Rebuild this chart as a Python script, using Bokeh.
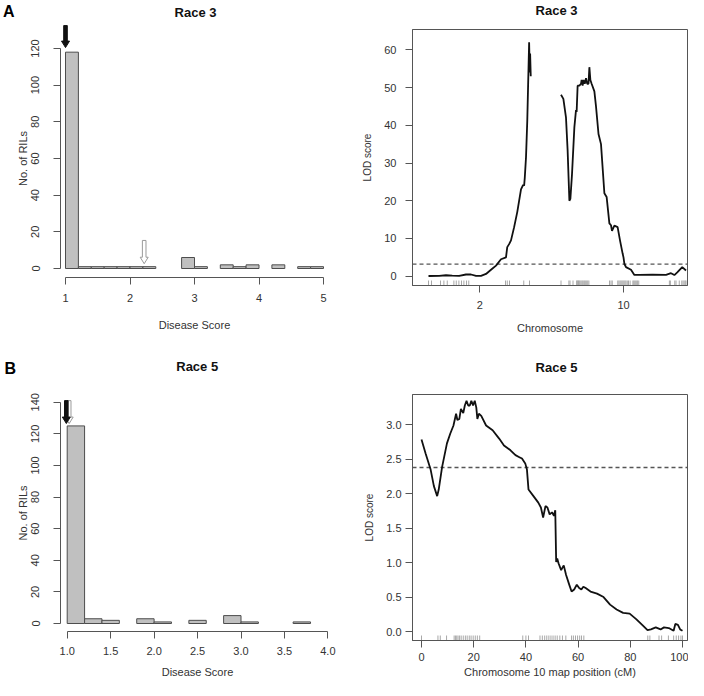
from bokeh.plotting import figure
from bokeh.models import Range1d, FixedTicker, Label, NumeralTickFormatter
from bokeh.layouts import column, row
from bokeh.embed import file_html
from bokeh.resources import INLINE

# ---------------- data ----------------
# Histograms (bin width 0.2)
r3_bin_start = 1.0
r3_bin_width = 0.2
r3_counts = [118, 1, 1, 1, 1, 1, 1, 0, 0, 6, 1, 0, 2, 1, 2, 0, 2, 0, 1, 1]
r3_hist_xticks = [1, 2, 3, 4, 5]
r3_hist_yticks = [0, 20, 40, 60, 80, 100, 120]

r5_bin_start = 1.0
r5_bin_width = 0.2
r5_counts = [125, 3, 2, 0, 3, 1, 0, 2, 0, 5, 1, 0, 0, 1]
r5_hist_xticks = [1.0, 1.5, 2.0, 2.5, 3.0, 3.5, 4.0]
r5_hist_yticks = [0, 20, 40, 60, 80, 100, 120, 140]

# Arrows on histograms
r3_arrow_x = [1.0, 2.22]
r3_arrow_top = [132.5, 15.3]
r3_arrow_tip = [120.5, 2.6]
r3_arrow_kind = ["black", "white"]

r5_arrow_x = [1.023, 0.99]
r5_arrow_top = [141.0, 141.0]
r5_arrow_tip = [126.5, 126.5]
r5_arrow_kind = ["white", "black"]

# Genome scan, race 3 (chromosomes 2 and 10)
chr_names = ["2", "10"]
chr_lengths = [82.0, 100.0]
chr_gap = 24.0

r3_chr2_pos = [0, 8.5, 14, 19, 24.5, 30, 34, 38, 42, 46, 50, 54, 58, 62, 63, 64.5, 66,
               68.5, 71, 74, 75.7, 76.5, 77, 78, 79, 80, 80.5, 81, 81.3, 81.8]
r3_chr2_lod = [0.05, 0.1, 0.25, 0.15, 0.1, 0.45, 0.45, 0.1, 0.1, 0.6, 1.7, 2.8, 4.5, 5.0, 7.7, 8.5, 9.5,
               13, 17, 23, 24.2, 24.0, 26, 31.5, 41, 55, 62, 54, 59, 53]
r3_chr10_pos = [0, 1.9, 4, 5.3, 6.7, 7.5, 8.8, 10.7, 12, 12.5, 13.3, 14.7, 16, 16.5, 17.3, 18, 19, 20,
                21, 22, 22.7, 23.5, 24.5, 26.7, 28, 30, 32, 34.7, 36.5, 38.7, 40, 40.8, 42.7, 45.3,
                47.2, 49.3, 50, 50.7, 52, 56, 58.7, 62.7, 73, 84, 88, 90.7, 93, 97, 100]
r3_chr10_lod = [48.1, 47, 42, 33.3, 20, 20.5, 27, 39.5, 44, 43.5, 50.5, 50.5, 51, 52, 50.5, 52, 51, 52.5,
                51, 51, 55.4, 52, 51, 49, 45, 37.7, 35, 22, 21, 14, 13.5, 12, 13.4, 13,
                9.5, 6, 5, 3.3, 2.4, 1.7, 0.35, 0.35, 0.4, 0.35, 0.8, 0.3, 1.0, 2.4, 1.5]
r3_threshold = 3.2
r3_lod_yticks = [0, 10, 20, 30, 40, 50, 60]

chr2_markers = [0, 2.4, 9.6, 12.3, 15, 20.3, 22.2, 24.3, 26.4, 28.3, 30.4, 32.2, 61.6, 63, 64.8, 76.2, 80.8]
chr10_markers = [0, 6.3, 7.2, 9.6, 12.5, 13.0, 13.5, 14.0, 14.6, 15.2, 16.0, 16.8, 17.5, 18.3, 19.0,
                 19.8, 20.6, 21.4, 22.3, 38.8, 40.0, 41.0, 45.4, 46.3, 47.2, 48.0, 48.8, 49.6, 50.4,
                 51.2, 52.0, 53.0, 54.0, 55.3, 57.5, 58.2, 59.0, 59.8, 60.6, 61.3, 62.2, 86.7, 87.5,
                 91.0, 92.0, 94.6, 96.6, 97.6, 98.5, 99.4, 100]

# Chromosome 10 scan, race 5
r5_pos = [0, 1.6, 3.5, 4.75, 6, 6.6, 7.9, 9.75, 11, 12.25, 13.25, 13.75, 14.5, 15.1, 16, 16.6, 17.25,
          17.9, 18.5, 19.1, 19.75, 20.4, 21, 21.4, 22, 22.9, 24.75, 27.25, 29.75, 31.6, 34.1, 36,
          37.5, 38.5, 39.75, 40.4, 41, 42.9, 44.75, 45.75, 46.6, 47.5, 48.25, 49.1, 50, 50.75, 51.25,
          51.6, 52, 52.5, 53.5, 54.5, 55.4, 56.6, 57.5, 58.5, 59.5, 60.4, 61.25, 62, 62.9, 64.75,
          67.25, 69.75, 72.25, 74.75, 77.25, 79.75, 82.25, 84.75, 86.6, 87.9, 89.75, 91.6, 92.9,
          94.75, 96.6, 97.25, 98.25, 99.1, 100]
r5_lod = [2.785, 2.58, 2.35, 2.11, 1.965, 2.06, 2.39, 2.73, 2.87, 2.99, 3.16, 3.07, 3.085, 3.23, 3.17,
          3.28, 3.35, 3.28, 3.28, 3.35, 3.28, 3.35, 3.25, 3.085, 3.16, 3.13, 2.99, 2.92, 2.8, 2.7,
          2.63, 2.56, 2.53, 2.51, 2.44, 2.35, 2.06, 1.965, 1.87, 1.8, 1.655, 1.82, 1.8, 1.70, 1.73,
          1.68, 1.76, 1.01, 1.06, 0.99, 0.89, 0.96, 0.82, 0.68, 0.58, 0.61, 0.68, 0.63, 0.61, 0.65,
          0.63, 0.58, 0.55, 0.5, 0.39, 0.32, 0.27, 0.26, 0.18, 0.09, 0.02, 0.03, 0.06, 0.03, 0.06,
          0.05, 0.01, 0.11, 0.095, 0.03, 0.01]
r5_threshold = 2.38
r5_lod_xticks = [0, 20, 40, 60, 80, 100]
r5_lod_yticks = [0.0, 0.5, 1.0, 1.5, 2.0, 2.5, 3.0]

# ---------------- style ----------------
FONT = "Liberation Sans"
TXT = "#333333"
AX = "#555555"
BAR_FILL = "#c0c0c0"
BAR_LINE = "#4d4d4d"
RUG = "#a8a8a8"
CURVE = "#111111"


def canvas_fig(W, H, ox, oy, xref_px, xref_val, ppx, yref_py, yref_val, ppy):
    """Figure whose frame fills the canvas; mapping defined in picture pixels."""
    def fx(px):
        return xref_val + (px - xref_px) / ppx

    def fy(py):
        return yref_val + (yref_py - py) / ppy

    p = figure(width=W, height=H, x_range=Range1d(fx(ox), fx(ox + W)),
               y_range=Range1d(fy(oy + H), fy(oy)), output_backend="svg",
               toolbar_location=None, title=None, min_border=0,
               min_border_left=0, min_border_right=0, min_border_top=0, min_border_bottom=0)
    p.grid.visible = False
    p.outline_line_color = None
    p.background_fill_color = "white"
    p.border_fill_color = "white"
    for ax in (p.xaxis[0], p.yaxis[0]):
        ax.axis_line_color = AX
        ax.major_tick_line_color = AX
        ax.minor_tick_line_color = None
        ax.major_tick_out = 7
        ax.major_tick_in = 0
        ax.major_label_text_font = FONT
        ax.major_label_text_font_size = "11px"
        ax.major_label_text_color = TXT
        ax.axis_label_text_font = FONT
        ax.axis_label_text_font_size = "11px"
        ax.axis_label_text_font_style = "normal"
        ax.axis_label_text_color = TXT
    return p, fx, fy


def add_text(p, text, x, y, size="13px", align="center", color="#111111"):
    p.add_layout(Label(x=x, y=y, text=text, text_align=align, text_baseline="middle",
                       text_font=FONT, text_font_size=size, text_font_style="bold",
                       text_color=color))


def block_arrow(x, ytop, ytip, ppx, ppy, shaft_px=3.6, head_w_px=8.0, head_len_px=6.5):
    sw = shaft_px / 2.0 / ppx
    hw = head_w_px / 2.0 / ppx
    hl = head_len_px / ppy
    yb = ytip + hl
    xs = [x - sw, x + sw, x + sw, x + hw, x, x - hw, x - sw]
    ys = [ytop, ytop, yb, yb, ytip, yb, yb]
    return xs, ys


def histogram(p, fx, fy, ppx, ppy, counts, start, width, xticks, yticks, yaxis_px, xaxis_py,
              arrows, fmt=None):
    lefts = [start + i * width for i, c in enumerate(counts) if c > 0]
    tops = [c for c in counts if c > 0]
    rights = [l + width for l in lefts]
    p.quad(left=lefts, right=rights, bottom=0, top=tops, fill_color=BAR_FILL,
           line_color=BAR_LINE, line_width=1)
    p.xaxis.fixed_location = fy(xaxis_py)
    p.yaxis.fixed_location = fx(yaxis_px)
    p.xaxis.ticker = FixedTicker(ticks=xticks)
    p.xaxis.bounds = (xticks[0], xticks[-1])
    p.yaxis.ticker = FixedTicker(ticks=yticks)
    p.yaxis.bounds = (yticks[0], yticks[-1])
    if fmt:
        p.xaxis.formatter = NumeralTickFormatter(format=fmt)
    p.yaxis.major_label_orientation = "vertical"
    p.yaxis.major_label_standoff = 14
    p.yaxis.axis_label_standoff = 0
    p.xaxis.axis_label = "Disease Score"
    p.yaxis.axis_label = "No. of RILs"
    for x, yt, ytip, k in zip(*arrows):
        xs, ys = block_arrow(x, yt, ytip, ppx, ppy)
        if k == "black":
            p.patch(xs, ys, fill_color="#111111", line_color="#111111", line_width=1)
        else:
            p.patch(xs, ys, fill_color="white", line_color="#9a9a9a", line_width=1)


# ---------------- panel A left: histogram race 3 ----------------
W1, H1 = 352, 344
PPX1, PPY1 = 64.5, 1.8333
p1, fx1, fy1 = canvas_fig(W1, H1, 0, 0, 65, 1.0, PPX1, 268, 0.0, PPY1)
histogram(p1, fx1, fy1, PPX1, PPY1, r3_counts, r3_bin_start, r3_bin_width,
          r3_hist_xticks, r3_hist_yticks, 60, 277,
          (r3_arrow_x, r3_arrow_top, r3_arrow_tip, r3_arrow_kind))
p1.xaxis.major_label_standoff = 9
p1.xaxis.axis_label_standoff = 14
add_text(p1, "Race 3", fx1(195), fy1(12))
add_text(p1, "A", fx1(2.5), fy1(11), size="16px", align="left", color="#000000")

# ---------------- panel A right: genome scan race 3 ----------------
W2, H2 = 336, 344
PPX2, PPY2 = 1.25, 3.773
p2, fx2, fy2 = canvas_fig(W2, H2, 352, 0, 428, 0.0, PPX2, 275.7, 0.0, PPY2)
bx0, bx1, by0, by1 = fx2(412), fx2(687), fy2(285), fy2(29)
p2.quad(left=[bx0], right=[bx1], bottom=[by0], top=[by1], fill_color=None,
        line_color=AX, line_width=1)
offset10 = chr_lengths[0] + chr_gap
mids = [chr_lengths[0] / 2.0, offset10 + chr_lengths[1] / 2.0]
p2.xaxis.fixed_location = by0
p2.yaxis.fixed_location = bx0
p2.xaxis.bounds = (bx0, bx1)
p2.yaxis.bounds = (by0, by1)
p2.xaxis.ticker = FixedTicker(ticks=mids)
p2.xaxis.major_label_overrides = {mids[0]: chr_names[0], mids[1]: chr_names[1]}
p2.yaxis.ticker = FixedTicker(ticks=r3_lod_yticks)
p2.xaxis.axis_label = "Chromosome"
p2.yaxis.axis_label = "LOD score"
p2.yaxis.axis_label_text_font_size = "10px"
p2.xaxis.major_label_standoff = 8
p2.xaxis.axis_label_standoff = 10
p2.yaxis.major_label_standoff = 9
p2.yaxis.axis_label_standoff = 8
rug_x2 = list(chr2_markers) + [offset10 + m for m in chr10_markers]
p2.segment(x0=rug_x2, y0=[by0] * len(rug_x2), x1=rug_x2, y1=[fy2(280)] * len(rug_x2),
           line_color=RUG, line_width=1)
p2.segment(x0=[bx0], y0=[r3_threshold], x1=[bx1], y1=[r3_threshold], line_color=AX,
           line_dash="4 3", line_width=1.3)
p2.line(r3_chr2_pos, r3_chr2_lod, line_color=CURVE, line_width=1.8)
p2.line([offset10 + x for x in r3_chr10_pos], r3_chr10_lod, line_color=CURVE, line_width=1.8)
add_text(p2, "Race 3", fx2(556), fy2(10))

# ---------------- panel B left: histogram race 5 ----------------
W3, H3 = 352, 336
PPX3, PPY3 = 86.9, 1.5807
p3, fx3, fy3 = canvas_fig(W3, H3, 0, 344, 66.7, 1.0, PPX3, 623, 0.0, PPY3)
histogram(p3, fx3, fy3, PPX3, PPY3, r5_counts, r5_bin_start, r5_bin_width,
          r5_hist_xticks, r5_hist_yticks, 60, 631,
          (r5_arrow_x, r5_arrow_top, r5_arrow_tip, r5_arrow_kind), fmt="0.0")
p3.xaxis.major_label_standoff = 8
p3.xaxis.axis_label_standoff = 8
add_text(p3, "Race 5", fx3(196.7), fy3(365.5))
add_text(p3, "B", fx3(4), fy3(367.5), size="16px", align="left", color="#000000")

# ---------------- panel B right: chr 10 scan race 5 ----------------
W4, H4 = 336, 336
PPX4, PPY4 = 2.61, 68.9
p4, fx4, fy4 = canvas_fig(W4, H4, 352, 344, 421, 0.0, PPX4, 631, 0.0, PPY4)
cx0, cx1, cy0, cy1 = fx4(412), fx4(687), fy4(640), fy4(394)
p4.quad(left=[cx0], right=[cx1], bottom=[cy0], top=[cy1], fill_color=None,
        line_color=AX, line_width=1)
p4.xaxis.fixed_location = cy0
p4.yaxis.fixed_location = cx0
p4.xaxis.bounds = (cx0, cx1)
p4.yaxis.bounds = (cy0, cy1)
p4.xaxis.ticker = FixedTicker(ticks=r5_lod_xticks)
p4.yaxis.ticker = FixedTicker(ticks=r5_lod_yticks)
p4.yaxis.formatter = NumeralTickFormatter(format="0.0")
p4.xaxis.axis_label = "Chromosome 10 map position (cM)"
p4.yaxis.axis_label = "LOD score"
p4.yaxis.axis_label_text_font_size = "10px"
p4.xaxis.major_label_standoff = 5
p4.xaxis.axis_label_standoff = 2
p4.yaxis.major_label_standoff = 4
p4.yaxis.axis_label_standoff = 8
p4.segment(x0=chr10_markers, y0=[cy0] * len(chr10_markers), x1=chr10_markers,
           y1=[fy4(635)] * len(chr10_markers), line_color=RUG, line_width=1)
p4.segment(x0=[cx0], y0=[r5_threshold], x1=[cx1], y1=[r5_threshold], line_color=AX,
           line_dash="4 3", line_width=1.3)
p4.line(r5_pos, r5_lod, line_color=CURVE, line_width=1.8)
add_text(p4, "Race 5", fx4(556), fy4(366.7))

layout = column(row(p1, p2), row(p3, p4))
open("out.html", "w").write(file_html(layout, INLINE))
